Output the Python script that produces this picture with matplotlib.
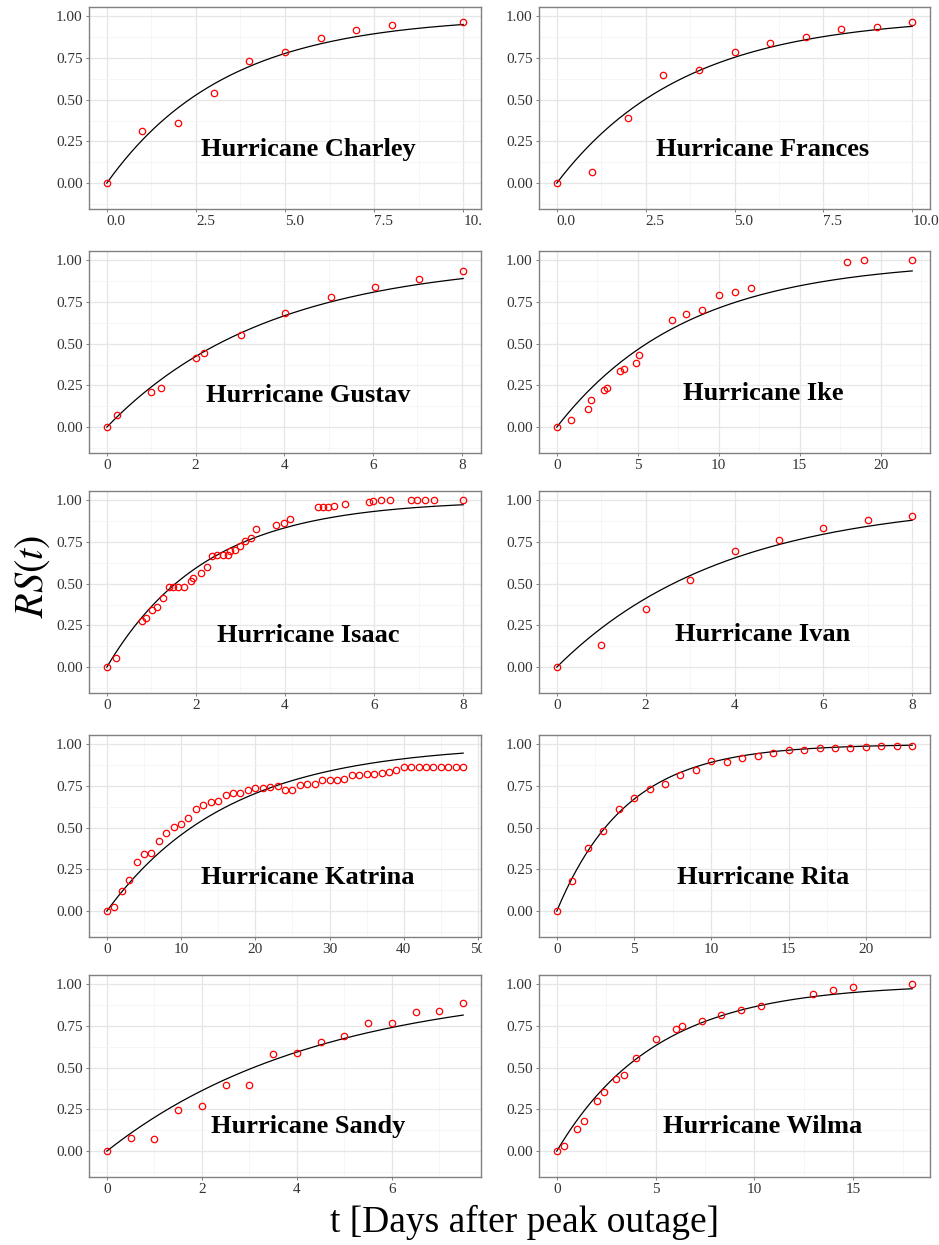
import numpy as np
import matplotlib
matplotlib.use("Agg")
import matplotlib.pyplot as plt
from matplotlib.ticker import MultipleLocator, AutoMinorLocator, FormatStrFormatter
from matplotlib.transforms import Bbox, TransformedBbox

# ---------------- data ----------------
names = ["Hurricane Charley", "Hurricane Frances", "Hurricane Gustav", "Hurricane Ike",
         "Hurricane Isaac", "Hurricane Ivan", "Hurricane Katrina", "Hurricane Rita",
         "Hurricane Sandy", "Hurricane Wilma"]

charley_t = [0, 1, 2, 3, 4, 5, 6, 7, 8, 10]
charley_rs = [0.0, 0.31, 0.36, 0.54, 0.73, 0.785, 0.87, 0.92, 0.945, 0.966]

frances_t = [0, 1, 2, 3, 4, 5, 6, 7, 8, 9, 10]
frances_rs = [0.0, 0.068, 0.393, 0.645, 0.675, 0.786, 0.838, 0.876, 0.924, 0.936, 0.964]

gustav_t = [0, 0.22, 1.0, 1.21, 2.0, 2.2, 3.02, 4.02, 5.05, 6.05, 7.03, 8.03]
gustav_rs = [0.0, 0.07, 0.21, 0.237, 0.414, 0.442, 0.552, 0.683, 0.779, 0.839, 0.886, 0.934]

ike_t = [0, 0.9, 1.9, 2.1, 2.9, 3.1, 3.9, 4.15, 4.9, 5.1, 7.1, 8.0, 8.98, 10.0,
         10.98, 11.98, 17.9, 19.0, 21.95]
ike_rs = [0.0, 0.04, 0.11, 0.163, 0.225, 0.233, 0.339, 0.351, 0.382, 0.43, 0.64, 0.677,
          0.70, 0.791, 0.807, 0.835, 0.988, 1.0, 1.0]

isaac_t = [0, 0.21, 0.78, 0.88, 1.01, 1.12, 1.25, 1.39, 1.49, 1.6, 1.73, 1.88, 1.94,
           2.12, 2.24, 2.35, 2.48, 2.61, 2.73, 2.76, 2.88, 3.0, 3.11, 3.24, 3.36, 3.79,
           3.98, 4.11, 4.75, 4.86, 4.96, 5.1, 5.35, 5.89, 5.98, 6.15, 6.36, 6.83, 6.96,
           7.15, 7.35, 8.0]
isaac_rs = [0.0, 0.056, 0.275, 0.293, 0.345, 0.361, 0.416, 0.478, 0.48, 0.48, 0.48,
            0.516, 0.532, 0.564, 0.6, 0.667, 0.671, 0.671, 0.671, 0.697, 0.703, 0.725,
            0.753, 0.773, 0.827, 0.849, 0.863, 0.886, 0.96, 0.96, 0.958, 0.966, 0.98,
            0.99, 0.994, 1.0, 1.0, 1.0, 1.0, 1.0, 1.0, 1.0]

ivan_t = [0, 1, 2, 3, 4, 5, 6, 7, 8]
ivan_rs = [0.0, 0.13, 0.347, 0.52, 0.695, 0.761, 0.831, 0.884, 0.904]

katrina_t = list(range(0, 49))
katrina_rs = [0.0, 0.022, 0.122, 0.186, 0.297, 0.343, 0.347, 0.421, 0.469, 0.505, 0.519,
              0.559, 0.611, 0.633, 0.655, 0.661, 0.697, 0.705, 0.709, 0.727, 0.735,
              0.737, 0.743, 0.747, 0.725, 0.725, 0.753, 0.759, 0.763, 0.783, 0.786,
              0.788, 0.79, 0.813, 0.813, 0.82, 0.82, 0.83, 0.836, 0.848, 0.862, 0.864,
              0.864, 0.864, 0.864, 0.864, 0.866, 0.866, 0.866]

rita_t = list(range(0, 24))
rita_rs = [0.0, 0.179, 0.38, 0.479, 0.61, 0.676, 0.73, 0.76, 0.813, 0.843, 0.897, 0.895,
           0.919, 0.93, 0.947, 0.964, 0.968, 0.976, 0.98, 0.98, 0.984, 0.988, 0.988, 0.988]

sandy_t = [0, 0.5, 1.0, 1.5, 2.0, 2.5, 3.0, 3.5, 4.0, 4.5, 5.0, 5.5, 6.0, 6.5, 7.0, 7.5]
sandy_rs = [0.0, 0.078, 0.07, 0.245, 0.273, 0.394, 0.394, 0.582, 0.586, 0.655, 0.689,
            0.767, 0.767, 0.835, 0.837, 0.89]

wilma_t = [0, 0.39, 1.03, 1.38, 2.02, 2.39, 3.01, 3.4, 4.0, 5.0, 6.01, 6.35, 7.34, 8.33,
           9.31, 10.35, 12.98, 13.97, 15.0, 17.98]
wilma_rs = [0.0, 0.032, 0.13, 0.18, 0.303, 0.355, 0.433, 0.457, 0.557, 0.671, 0.733,
            0.749, 0.78, 0.814, 0.844, 0.868, 0.944, 0.966, 0.986, 1.0]

# fitted recovery rate k of RS(t) = 1 - exp(-k t)
fit_rate = [0.30, 0.28, 0.275, 0.125, 0.45, 0.265, 0.061, 0.222, 0.225, 0.20]

# x-axis tick step and label format per panel
x_step = [2.5, 2.5, 2, 5, 2, 2, 10, 5, 2, 5]
x_fmt = ["%.1f", "%.1f", "%d", "%d", "%d", "%d", "%d", "%d", "%d", "%d"]

series_t = [charley_t, frances_t, gustav_t, ike_t, isaac_t, ivan_t, katrina_t, rita_t,
            sandy_t, wilma_t]
series_rs = [charley_rs, frances_rs, gustav_rs, ike_rs, isaac_rs, ivan_rs, katrina_rs,
             rita_rs, sandy_rs, wilma_rs]

# ---------------- layout ----------------
W, H = 939, 1245
fig = plt.figure(figsize=(W / 100, H / 100), dpi=100)
fig.patch.set_facecolor("white")
plt.rcParams["mathtext.fontset"] = "stix"

col_x = [89, 539]
col_w = [392, 391]
row_top = [7, 251, 491, 735, 975]
panel_h = 202
label_ypos = [0.293, 0.293, 0.285, 0.293, 0.285, 0.29, 0.293, 0.293, 0.252, 0.252]
label_xpos = [0.559, 0.573]

serif = "Liberation Serif"
clip_box = TransformedBbox(Bbox([[0, 0], [482 / W, 1]]), fig.transFigure)

for i in range(10):
    r, c = divmod(i, 2)
    ax = fig.add_axes([col_x[c] / W, 1 - (row_top[r] + panel_h) / H,
                       col_w[c] / W, panel_h / H])
    t = np.asarray(series_t[i], dtype=float)
    rs = np.asarray(series_rs[i], dtype=float)
    tmax = t.max()
    tt = np.linspace(0, tmax, 300)
    ax.plot(tt, 1 - np.exp(-fit_rate[i] * tt), color="black", lw=0.9, zorder=3)
    ax.plot(t, rs, linestyle="none", marker="o", ms=4.6, mfc="none", mec="#FF0000",
            mew=0.9, zorder=4)

    ax.set_xlim(-0.05 * tmax, 1.05 * tmax)
    ax.set_ylim(-0.155, 1.055)
    ax.xaxis.set_major_locator(MultipleLocator(x_step[i]))
    ax.xaxis.set_minor_locator(AutoMinorLocator(2))
    ax.xaxis.set_major_formatter(FormatStrFormatter(x_fmt[i]))
    ax.yaxis.set_major_locator(MultipleLocator(0.25))
    ax.yaxis.set_minor_locator(AutoMinorLocator(2))
    ax.yaxis.set_major_formatter(FormatStrFormatter("%.2f"))

    ax.grid(which="major", color="#E6E6E6", lw=0.9, zorder=0)
    ax.grid(which="minor", color="#F3F3F3", lw=0.5, zorder=0)
    ax.set_axisbelow(True)
    for s in ax.spines.values():
        s.set_color("#808080")
        s.set_linewidth(1.0)
    ax.tick_params(which="major", length=2.5, width=0.7, color="#808080", pad=2,
                   labelsize=11, labelcolor="#333333")
    ax.tick_params(which="minor", length=0)
    for lab in ax.get_xticklabels() + ax.get_yticklabels():
        lab.set_fontfamily(serif)
    if r == 0:
        for lab in ax.get_xticklabels():
            lab.set_horizontalalignment("left")
    if c == 0:
        for lab in ax.get_xticklabels():
            lab.set_clip_on(True)
            lab.set_clip_box(clip_box)

    ax.text(label_xpos[c], label_ypos[i], names[i], transform=ax.transAxes,
            ha="center", va="center", fontsize=19, fontweight="bold",
            fontfamily=serif, color="black", zorder=5)

fig.text(32 / W, 1 - 576 / H, r"$RS(t)$", rotation=90, ha="center", va="center",
         fontsize=29)
fig.text(525 / W, 1 - 1222 / H, "t [Days after peak outage]", ha="center", va="center",
         fontsize=27, fontfamily=serif)

fig.savefig("out.png", dpi=100, facecolor="white")
